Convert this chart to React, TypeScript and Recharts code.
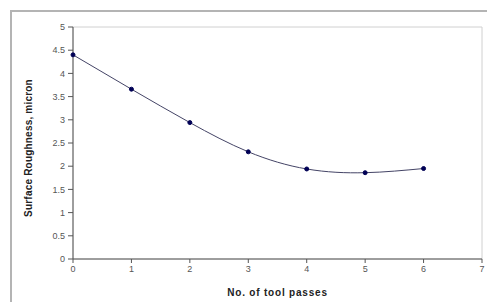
import { LineChart, Line, XAxis, YAxis, ReferenceArea } from "recharts";

const passes = [0, 1, 2, 3, 4, 5, 6];
const roughness = [4.4, 3.66, 2.94, 2.31, 1.94, 1.86, 1.95];
const xTicks = [0, 1, 2, 3, 4, 5, 6, 7];
const yTicks = [0, 0.5, 1, 1.5, 2, 2.5, 3, 3.5, 4, 4.5, 5];

const data = passes.map((p, i) => ({ passes: p, roughness: roughness[i] }));

const font = "Liberation Sans, Arial, sans-serif";
const tickStyle = { fontSize: 9, fill: "#555", fontFamily: font };

export default function App() {
  return (
    <div style={{ position: "absolute", left: 0, top: 0, width: 487, height: 302, overflow: "hidden", background: "#fff" }}>
      <div
        style={{
          position: "absolute",
          left: 10,
          top: 10,
          width: 520,
          height: 340,
          border: "2px solid #b4b4b4",
        }}
      />
      <div style={{ position: "absolute", left: 0, top: 0 }}>
        <LineChart width={487} height={302} data={data} margin={{ top: 27, right: 5, bottom: 18, left: 18 }}>
          <ReferenceArea x1={0} x2={7} y1={0} y2={5} fill="none" stroke="#d0d0d0" strokeWidth={1} ifOverflow="visible" />
          <XAxis
            dataKey="passes"
            type="number"
            domain={[0, 7]}
            ticks={xTicks}
            interval={0}
            height={25}
            tick={tickStyle}
            tickSize={4}
            tickMargin={3}
            stroke="#555"
            label={{
              value: "No. of tool passes",
              position: "insideBottom",
              offset: -12,
              style: { fontSize: 10, fontWeight: "bold", fill: "#222", fontFamily: font, letterSpacing: 0.8 },
            }}
          />
          <YAxis
            type="number"
            domain={[0, 5]}
            ticks={yTicks}
            interval={0}
            width={55}
            tick={tickStyle}
            tickSize={5}
            tickMargin={3}
            stroke="#555"
            label={{
              value: "Surface Roughness, micron",
              angle: -90,
              position: "center",
              dx: -17,
              dy: 5,
              style: { fontSize: 10, fontWeight: "bold", fill: "#222", fontFamily: font, letterSpacing: 0.2 },
            }}
          />
          <Line
            dataKey="roughness"
            type="natural"
            stroke="#444466"
            strokeWidth={1}
            dot={{ r: 2, fill: "#000055", stroke: "#000055" }}
            isAnimationActive={false}
          />
        </LineChart>
      </div>
    </div>
  );
}
